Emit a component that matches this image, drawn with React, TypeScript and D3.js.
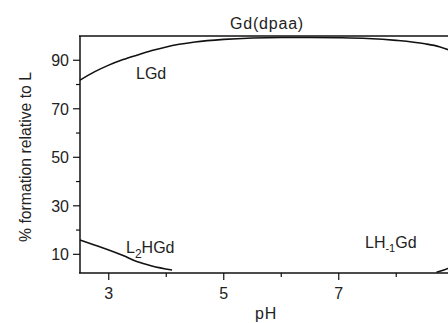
import React, { useEffect, useRef } from 'react';
import * as d3 from 'd3';

// pH grid and % formation for each species
const lgdPH = [2.5, 2.75, 3.0, 3.25, 3.5, 3.75, 4.0, 4.5, 5.0, 5.5, 6.0, 6.5, 7.0, 7.5, 8.0, 8.5, 8.75, 9.0];
const lgdVal = [81.8, 85.2, 88.0, 90.3, 92.2, 94.0, 95.5, 97.5, 98.6, 99.2, 99.4, 99.4, 99.3, 99.0, 98.2, 96.8, 95.6, 93.5];
const l2hgdPH = [2.5, 2.75, 3.0, 3.25, 3.5, 3.75, 4.1];
const l2hgdVal = [15.9, 13.8, 11.8, 9.5, 6.9, 5.2, 3.5];
const lh1gdPH = [8.7, 8.8, 8.9, 9.0];
const lh1gdVal = [2.6, 3.3, 4.2, 5.2];

const xMajor = [3, 5, 7];
const xMinor = [4, 6, 8];
const yMajor = [10, 30, 50, 70, 90];
const yMinor = [20, 40, 60, 80];

const App = () => {
  const ref = useRef<SVGSVGElement | null>(null);

  useEffect(() => {
    const width = 448;
    const height = 323;
    const font = 'Arial, "Liberation Sans", sans-serif';
    const ink = '#222';

    const x = d3.scaleLinear().domain([2.5, 9]).range([80, 453.75]);
    const y = d3.scaleLinear().domain([2.3, 100]).range([273, 36]);

    const svg = d3.select(ref.current);
    svg.selectAll('*').remove();
    svg.attr('width', width).attr('height', height);

    const g = svg.append('g');

    // frame lines: left, bottom, top
    g.append('line').attr('x1', 80).attr('x2', 80).attr('y1', 36).attr('y2', 273)
      .attr('stroke', '#111').attr('stroke-width', 1.5);
    g.append('line').attr('x1', 79).attr('x2', width).attr('y1', 273).attr('y2', 273)
      .attr('stroke', '#111').attr('stroke-width', 1.5);
    g.append('line').attr('x1', 79).attr('x2', width).attr('y1', 36).attr('y2', 36)
      .attr('stroke', '#111').attr('stroke-width', 1.5);

    // x ticks
    xMajor.forEach(v => {
      g.append('line').attr('x1', x(v)).attr('x2', x(v)).attr('y1', 273).attr('y2', 280)
        .attr('stroke', '#111').attr('stroke-width', 1.2);
      g.append('text').attr('x', x(v)).attr('y', 299).attr('text-anchor', 'middle')
        .attr('font-family', font).attr('font-size', 16).attr('fill', ink).text(v);
    });
    xMinor.forEach(v => {
      g.append('line').attr('x1', x(v)).attr('x2', x(v)).attr('y1', 273).attr('y2', 277)
        .attr('stroke', '#111').attr('stroke-width', 1.2);
    });

    // y ticks
    yMajor.forEach(v => {
      g.append('line').attr('x1', 73).attr('x2', 80).attr('y1', y(v)).attr('y2', y(v))
        .attr('stroke', '#111').attr('stroke-width', 1.2);
      g.append('text').attr('x', 69).attr('y', y(v) + 6).attr('text-anchor', 'end')
        .attr('font-family', font).attr('font-size', 16).attr('fill', ink).text(v);
    });
    yMinor.forEach(v => {
      g.append('line').attr('x1', 76).attr('x2', 80).attr('y1', y(v)).attr('y2', y(v))
        .attr('stroke', '#111').attr('stroke-width', 1.2);
    });

    // curves
    const line = d3.line<[number, number]>()
      .x(d => x(d[0]))
      .y(d => y(d[1]))
      .curve(d3.curveMonotoneX);
    const series = [
      d3.zip(lgdPH, lgdVal),
      d3.zip(l2hgdPH, l2hgdVal),
      d3.zip(lh1gdPH, lh1gdVal),
    ];
    series.forEach(s => {
      g.append('path').attr('d', line(s as [number, number][]))
        .attr('fill', 'none').attr('stroke', '#111').attr('stroke-width', 1.6);
    });

    // title and axis labels
    svg.append('text').attr('x', 267).attr('y', 29).attr('text-anchor', 'middle')
      .attr('font-family', font).attr('font-size', 16).attr('letter-spacing', 0.8)
      .attr('fill', ink).text('Gd(dpaa)');
    svg.append('text').attr('x', 266).attr('y', 319).attr('text-anchor', 'middle')
      .attr('font-family', font).attr('font-size', 16).attr('letter-spacing', 0.8)
      .attr('fill', ink).text('pH');
    svg.append('text').attr('transform', 'translate(31,157) rotate(-90)').attr('text-anchor', 'middle')
      .attr('font-family', font).attr('font-size', 16).attr('fill', ink)
      .attr('textLength', 170).attr('lengthAdjust', 'spacingAndGlyphs')
      .text('% formation relative to L');

    // species labels
    svg.append('text').attr('x', 136).attr('y', 79)
      .attr('font-family', font).attr('font-size', 16).attr('fill', ink).text('LGd');

    const l2 = svg.append('text').attr('x', 126).attr('y', 253)
      .attr('font-family', font).attr('font-size', 16).attr('fill', ink);
    l2.append('tspan').text('L');
    l2.append('tspan').attr('dy', 5).attr('font-size', 12).text('2');
    l2.append('tspan').attr('dy', -5).text('HGd');

    const lh = svg.append('text').attr('x', 365).attr('y', 248)
      .attr('font-family', font).attr('font-size', 16).attr('fill', ink);
    lh.append('tspan').text('LH');
    lh.append('tspan').attr('dy', 4).attr('font-size', 11).text('-1');
    lh.append('tspan').attr('dy', -4).text('Gd');

    return () => {
      svg.selectAll('*').remove();
    };
  }, []);

  return (
    <svg ref={ref} style={{ position: 'absolute', left: 0, top: 0, background: '#fff' }} />
  );
};

export default App;
